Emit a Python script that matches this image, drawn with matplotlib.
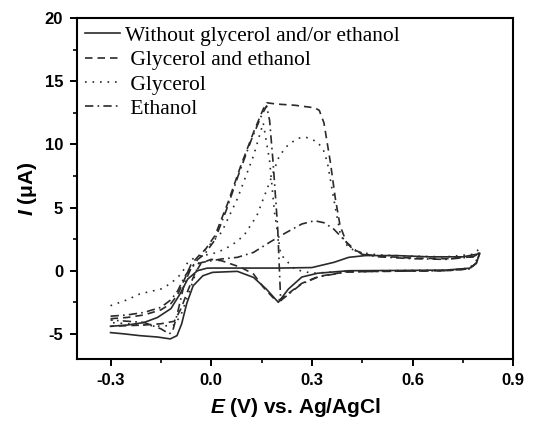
import numpy as np
import matplotlib
matplotlib.use("Agg")
import matplotlib.pyplot as plt
from matplotlib.ticker import MultipleLocator

plt.rcParams['font.family'] = 'Liberation Sans'
plt.rcParams['mathtext.fontset'] = 'custom'
plt.rcParams['mathtext.it'] = 'Liberation Sans:italic:bold'
plt.rcParams['mathtext.rm'] = 'Liberation Sans:bold'

# Without glycerol and/or ethanol (forward + reverse scan)
x_blank_fw = [-0.3, -0.25, -0.2, -0.16, -0.12, -0.093, -0.07, -0.041, -0.013, 0.0, 0.1, 0.2, 0.3, 0.365, 0.41, 0.46, 0.55, 0.65, 0.75, 0.8]
y_blank_fw = [-4.4, -4.3, -4.1, -3.7, -3.0, -1.84, -0.66, 0.0, 0.2, 0.21, 0.21, 0.21, 0.25, 0.66, 1.06, 1.2, 1.2, 1.1, 1.1, 1.35]
x_blank_rv = [0.8, 0.79, 0.77, 0.7, 0.55, 0.41, 0.317, 0.27, 0.23, 0.2, 0.164, 0.126, 0.078, 0.004, -0.025, -0.054, -0.073, -0.088, -0.102, -0.122, -0.16, -0.213, -0.26, -0.3]
y_blank_rv = [1.35, 0.6, 0.2, 0.05, 0.02, 0.0, -0.2, -0.5, -1.45, -2.5, -1.45, -0.53, -0.05, -0.13, -0.4, -1.2, -2.6, -4.2, -5.14, -5.4, -5.25, -5.14, -5.0, -4.9]

# Glycerol and ethanol
x_ge_fw = [-0.3, -0.25, -0.2, -0.15, -0.12, -0.1, -0.08, -0.06, -0.04, -0.017, 0.011, 0.05, 0.088, 0.126, 0.155, 0.166, 0.193, 0.25, 0.308, 0.322, 0.336, 0.355, 0.37, 0.384, 0.403, 0.432, 0.46, 0.5, 0.6, 0.7, 0.78, 0.8]
y_ge_fw = [-3.8, -3.7, -3.5, -3.1, -2.6, -1.9, -0.7, 0.5, 1.1, 1.7, 2.77, 5.4, 8.3, 10.95, 12.8, 13.3, 13.2, 13.1, 12.9, 12.7, 11.7, 8.6, 5.7, 3.56, 2.25, 1.58, 1.3, 1.15, 1.0, 0.95, 1.1, 1.4]
x_ge_rv = [0.8, 0.79, 0.77, 0.7, 0.5, 0.4, 0.32, 0.27, 0.23, 0.205, 0.188, 0.155, 0.126, 0.088, 0.031, 0.0, -0.03, -0.05, -0.07, -0.09, -0.11, -0.15, -0.2, -0.3]
y_ge_rv = [1.4, 0.6, 0.15, 0.0, -0.05, -0.1, -0.45, -1.0, -1.8, -2.3, -2.24, -1.3, -0.26, 0.27, 0.79, 0.9, 0.6, -0.3, -1.6, -3.0, -4.0, -4.2, -4.3, -4.4]

# Glycerol
x_gly_fw = [-0.3, -0.25, -0.213, -0.15, -0.12, -0.1, -0.089, -0.07, -0.041, 0.0, 0.04, 0.07, 0.097, 0.136, 0.174, 0.203, 0.23, 0.26, 0.284, 0.317, 0.335, 0.346, 0.365, 0.384, 0.408, 0.44, 0.5, 0.6, 0.7, 0.78, 0.8]
y_gly_fw = [-2.77, -2.3, -1.84, -1.45, -1.0, -0.5, -0.26, 0.66, 1.19, 1.3, 1.7, 2.2, 2.77, 4.35, 7.0, 9.1, 10.0, 10.5, 10.55, 10.2, 9.5, 8.6, 5.7, 3.0, 1.85, 1.45, 1.25, 1.15, 1.1, 1.3, 1.75]
x_gly_rv = [0.8, 0.79, 0.77, 0.7, 0.5, 0.4, 0.3, 0.25, 0.231, 0.207, 0.188, 0.174, 0.155, 0.126, 0.078, 0.031, -0.017, -0.03, -0.05, -0.07, -0.09, -0.11, -0.15, -0.2, -0.3]
y_gly_rv = [1.75, 0.8, 0.2, 0.05, 0.0, -0.05, -0.2, 0.1, 0.6, 1.3, 4.75, 8.7, 11.7, 9.1, 5.7, 3.05, 1.7, 1.2, -0.5, -2.0, -3.5, -4.3, -4.4, -4.3, -4.1]

# Ethanol
x_eth_fw = [-0.3, -0.25, -0.2, -0.15, -0.12, -0.1, -0.08, -0.06, -0.04, -0.027, 0.031, 0.078, 0.126, 0.174, 0.222, 0.27, 0.308, 0.336, 0.365, 0.394, 0.422, 0.45, 0.5, 0.6, 0.7, 0.78, 0.8]
y_eth_fw = [-3.6, -3.5, -3.3, -2.9, -2.3, -1.6, -0.5, 0.3, 0.55, 0.66, 0.93, 1.06, 1.45, 2.25, 3.0, 3.7, 3.96, 3.8, 3.3, 2.5, 1.7, 1.3, 1.1, 0.95, 0.9, 1.1, 1.4]
x_eth_rv = [0.8, 0.79, 0.77, 0.7, 0.5, 0.4, 0.318, 0.269, 0.231, 0.207, 0.198, 0.184, 0.174, 0.165, 0.15, 0.12, 0.08, 0.045, 0.01, -0.02, -0.04, -0.06, -0.08, -0.1, -0.115, -0.125, -0.15, -0.2, -0.25, -0.3]
y_eth_rv = [1.4, 0.6, 0.15, 0.0, -0.05, -0.1, -0.5, -1.05, -1.85, -2.37, 3.43, 8.7, 11.9, 13.05, 12.3, 10.4, 7.5, 4.8, 2.4, 1.3, 0.9, 0.2, -1.0, -3.3, -4.8, -5.0, -4.6, -4.1, -4.0, -3.9]

labels = ["Without glycerol and/or ethanol", " Glycerol and ethanol", " Glycerol", " Ethanol"]

fig = plt.figure(figsize=(5.46, 4.22), dpi=100)
ax = fig.add_axes([0.141, 0.149, 0.799, 0.808])

c = "#2a2a2a"
ax.plot(x_blank_fw + x_blank_rv, y_blank_fw + y_blank_rv, color=c, lw=1.2, ls="-", label=labels[0])
ax.plot(x_ge_fw + x_ge_rv, y_ge_fw + y_ge_rv, color=c, lw=1.2, ls=(0, (4.5, 3)), label=labels[1])
ax.plot(x_gly_fw + x_gly_rv, y_gly_fw + y_gly_rv, color=c, lw=1.2, ls=(0, (1, 3.5)), label=labels[2])
ax.plot(x_eth_fw + x_eth_rv, y_eth_fw + y_eth_rv, color=c, lw=1.2, ls=(0, (5, 2.5, 1, 2.5)), label=labels[3])

ax.set_xlim(-0.4, 0.9)
ax.set_ylim(-7, 20)
ax.xaxis.set_minor_locator(MultipleLocator(0.15))
ax.yaxis.set_minor_locator(MultipleLocator(2.5))
ax.set_xticks([-0.3, 0.0, 0.3, 0.6, 0.9])
ax.set_xticklabels(["-0.3", "0.0", "0.3", "0.6", "0.9"])
ax.set_yticks([-5, 0, 5, 10, 15, 20])
ax.set_yticklabels(["-5", "0", "5", "10", "15", "20"])
ax.tick_params(which="major", direction="out", length=5, width=1.4, labelsize=12, pad=5)
ax.tick_params(which="minor", direction="out", length=3, width=1.2)
for lab in ax.get_xticklabels() + ax.get_yticklabels():
    lab.set_fontweight("bold")
for s in ax.spines.values():
    s.set_linewidth(1.5)

ax.set_xlabel(r"$E$ (V) vs. Ag/AgCl", fontsize=15, fontweight="bold", labelpad=6)
ax.set_ylabel(r"$I$ ($\mathrm{\mu}$A)", fontsize=15, fontweight="bold", labelpad=4)

ax.legend(loc="upper left", frameon=False, prop={"family": "Liberation Serif", "size": 15.5},
          handlelength=1.67, handletextpad=0.2, labelspacing=0.2,
          borderaxespad=0.2, borderpad=0.15)

fig.savefig("out.png", dpi=100)
